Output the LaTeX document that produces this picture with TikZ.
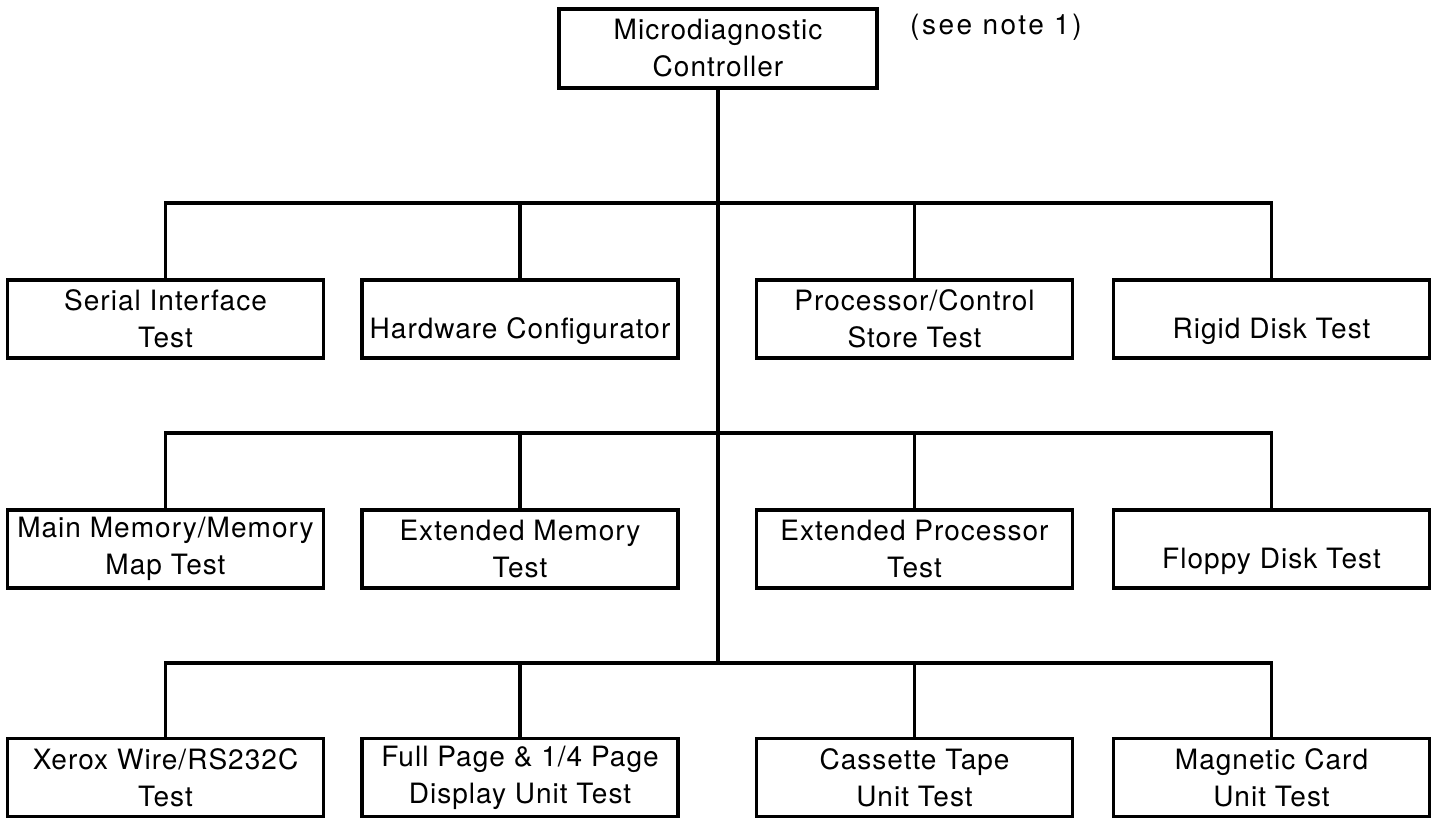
\documentclass[tikz,border=0pt]{standalone}
\usepackage{fontspec}
\setmainfont{TeX Gyre Heros}[LetterSpace=3.7]
\begin{document}
\begin{tikzpicture}[x=1pt,y=-1pt,
  every node/.style={font=\fontsize{28}{37}\selectfont, inner sep=0pt},
  unit/.style={draw, line width=3.6pt, minimum width=316pt,
    minimum height=78pt, align=center},
  % strut in the first line sets where the text sits in the box
  oneline/.style={unit, execute at begin node=\rule{0pt}{46pt}},
  twoline/.style={unit, execute at begin node=\rule{0pt}{32pt}},
  link/.style={line width=3.8pt}]
\useasboundingbox (0,0) rectangle (1440,818);

% controller and its note
\node[unit, minimum width=318pt, minimum height=79pt] (ctl) at (718,48.5)
  {Microdiagnostic\\Controller};
\node[anchor=base west, font=\fontsize{28}{37}\selectfont\addfontfeature{LetterSpace=9}]
  (note) at (910,35) {(see note 1)};

% first tier
\node[twoline] (s1) at (165.5,319) {Serial Interface\\Test};
\node[oneline] (s2) at (520,319)   {Hardware Configurator};
\node[twoline] (s3) at (914.5,319) {Processor/Control\\Store Test};
\node[oneline] (s4) at (1271.5,319) {Rigid Disk Test};

% second tier
\node[twoline] (m1) at (165.5,549) {Main Memory/Memory\\Map Test};
\node[twoline] (m2) at (520,549)   {Extended Memory\\Test};
\node[twoline] (m3) at (914.5,549) {Extended Processor\\Test};
\node[oneline] (m4) at (1271.5,549) {Floppy Disk Test};

% third tier
\node[twoline] (d1) at (165.5,777.5) {Xerox Wire/RS232C\\Test};
\node[twoline] (d2) at (520,777.5)   {Full Page \& 1/4 Page\\Display Unit Test};
\node[twoline] (d3) at (914.5,777.5) {Cassette Tape\\Unit Test};
\node[twoline] (d4) at (1271.5,777.5) {Magnetic Card\\Unit Test};

% junctions on the trunk
\coordinate (j1) at (718,203);
\coordinate (j2) at (718,433);
\coordinate (j3) at (718,663);

% trunk
\draw[link] (ctl.south) -- (j3);

% buses with their drops
\draw[link] (s1.north) |- (j1) -| (s4.north);
\draw[link] (s2.north) -- (s2.north |- j1);
\draw[link] (s3.north) -- (s3.north |- j1);

\draw[link] (m1.north) |- (j2) -| (m4.north);
\draw[link] (m2.north) -- (m2.north |- j2);
\draw[link] (m3.north) -- (m3.north |- j2);

\draw[link] (d1.north) |- (j3) -| (d4.north);
\draw[link] (d2.north) -- (d2.north |- j3);
\draw[link] (d3.north) -- (d3.north |- j3);
\end{tikzpicture}
\end{document}
